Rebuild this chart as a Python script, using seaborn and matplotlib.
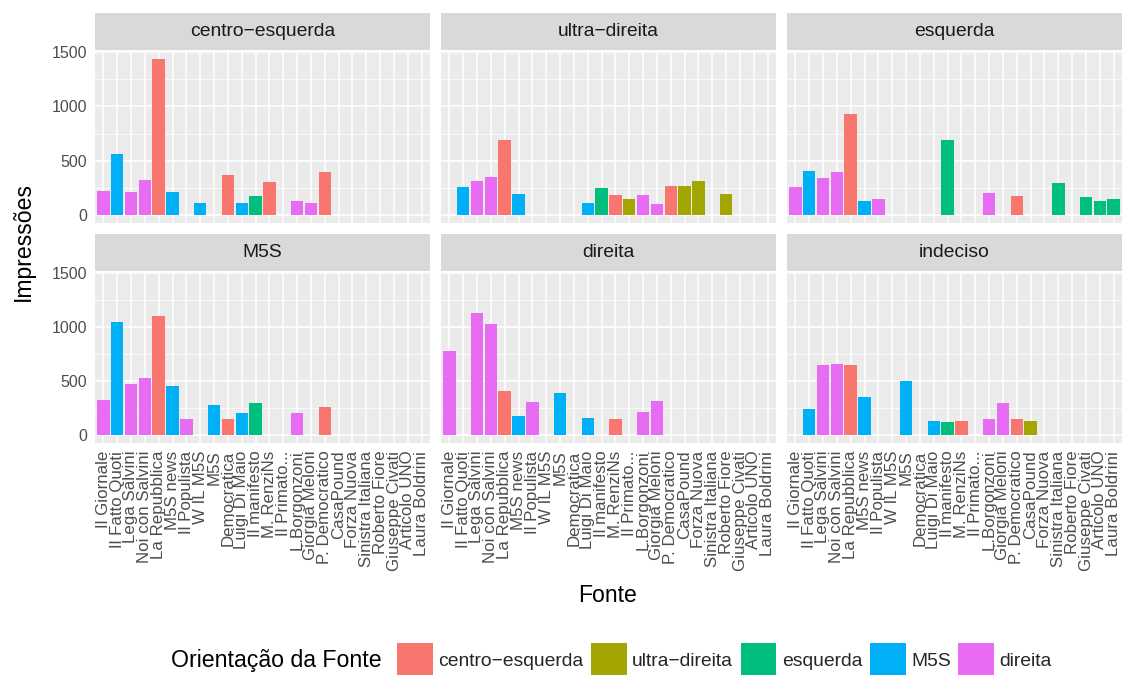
import numpy as np
import pandas as pd
import matplotlib
matplotlib.use('Agg')
import matplotlib.pyplot as plt
import seaborn as sns
from matplotlib.patches import Patch

# Sources on the x axis and the orientation of each source
sources = ['Il Giornale', 'Il Fatto Quoti', 'Lega Salvini', 'Noi con Salvini',
           'La Repubblica', 'M5S news', 'Il Populista', 'W IL M5S', 'M5S',
           'Democratica', 'Luigi Di Maio', 'Il manifesto', 'M. RenziNs',
           'Il Primato...', 'L.Borgonzoni', 'Giorgia Meloni', 'P. Democratico',
           'CasaPound', 'Forza Nuova', 'Sinistra Italiana', 'Roberto Fiore',
           'Giuseppe Civati', 'Articolo UNO', 'Laura Boldrini']
source_orient = ['direita', 'M5S', 'direita', 'direita',
                 'centro\u2212esquerda', 'M5S', 'direita', 'M5S', 'M5S',
                 'centro\u2212esquerda', 'M5S', 'esquerda', 'centro\u2212esquerda',
                 'ultra\u2212direita', 'direita', 'direita', 'centro\u2212esquerda',
                 'ultra\u2212direita', 'ultra\u2212direita', 'esquerda', 'ultra\u2212direita',
                 'esquerda', 'esquerda', 'esquerda']

# Facets (user orientation)
panels = ['centro\u2212esquerda', 'ultra\u2212direita', 'esquerda',
          'M5S', 'direita', 'indeciso']

# Impressions per source, one list per facet (0 = no bar)
imp_centro_esquerda = [225, 559, 216, 327, 1438, 216, 0, 114, 0, 373, 114, 179,
                       309, 0, 133, 114, 401, 0, 0, 0, 0, 0, 0, 0]
imp_ultra_direita = [0, 262, 318, 355, 688, 198, 0, 0, 0, 0, 114, 253,
                     188, 151, 188, 105, 272, 272, 318, 0, 198, 0, 0, 0]
imp_esquerda = [262, 410, 346, 401, 929, 133, 151, 0, 0, 0, 0, 688,
                0, 0, 207, 0, 179, 0, 0, 299, 0, 170, 133, 151]
imp_m5s = [322, 1048, 471, 527, 1103, 453, 146, 0, 276, 146, 201, 294,
           0, 0, 201, 0, 257, 0, 0, 0, 0, 0, 0, 0]
imp_direita = [778, 0, 1131, 1029, 406, 174, 304, 0, 388, 0, 155, 0,
               146, 0, 211, 313, 0, 0, 0, 0, 0, 0, 0, 0]
imp_indeciso = [0, 239, 648, 657, 645, 350, 0, 0, 499, 0, 136, 118,
                127, 0, 146, 294, 146, 127, 0, 0, 0, 0, 0, 0]
panel_values = [imp_centro_esquerda, imp_ultra_direita, imp_esquerda,
                imp_m5s, imp_direita, imp_indeciso]

orient_levels = ['centro\u2212esquerda', 'ultra\u2212direita', 'esquerda', 'M5S', 'direita']
palette = ['#F8766D', '#A3A500', '#00BF7D', '#00B0F6', '#E76BF3']

# Long table
rows = []
for p, vals in zip(panels, panel_values):
    for s, o, v in zip(sources, source_orient, vals):
        if v > 0:
            rows.append({'painel': p, 'Fonte': s, 'orient': o, 'Impressoes': v})
df = pd.DataFrame(rows)

sns.set_theme(style='darkgrid')
plt.rcParams['font.family'] = ['Liberation Sans', 'DejaVu Sans']

W, H = 1128, 675
fig = plt.figure(figsize=(W / 100, H / 100), dpi=100)
fig.patch.set_facecolor('white')


def box(x0, y0, x1, y1):
    return [x0 / W, 1 - y1 / H, (x1 - x0) / W, (y1 - y0) / H]


col_x = [95, 441, 787]
pan_w = 335
row_y = [(13, 51, 223), (234, 272, 443)]  # strip top, panel top, panel bottom

for i, p in enumerate(panels):
    r, c = divmod(i, 3)
    st, pt, pb = row_y[r]
    x0 = col_x[c]
    ax = fig.add_axes(box(x0, pt, x0 + pan_w, pb))
    sub = df[df['painel'] == p]
    sns.barplot(data=sub, x='Fonte', y='Impressoes', hue='orient',
                order=sources, hue_order=orient_levels, palette=palette,
                dodge=False, width=0.9, saturation=1, errorbar=None,
                legend=False, linewidth=0, edgecolor='none', ax=ax)
    ax.set_facecolor('#EBEBEB')
    ax.set_xlim(-0.6, len(sources) - 0.4)
    ax.set_ylim(-71.9, 1509.9)
    ax.set_yticks([0, 500, 1000, 1500])
    ax.set_yticks([250, 750, 1250], minor=True)
    ax.grid(which='major', color='white', linewidth=1.1)
    ax.grid(which='minor', axis='y', color='white', linewidth=0.55)
    ax.set_axisbelow(True)
    for sp in ax.spines.values():
        sp.set_visible(False)
    ax.set_xlabel('')
    ax.set_ylabel('')
    ax.tick_params(axis='both', which='major', length=3.5, width=1.0,
                   color='#333333', labelcolor='#4D4D4D')
    ax.tick_params(axis='y', which='minor', length=0)
    ax.tick_params(axis='y', labelsize=11.5, pad=2)
    if c != 0:
        ax.tick_params(axis='y', left=False, labelleft=False)
    if r == 0:
        ax.tick_params(axis='x', bottom=False, labelbottom=False)
    else:
        ax.set_xticks(range(len(sources)))
        ax.set_xticklabels(sources, rotation=90, fontsize=12.2)
        ax.tick_params(axis='x', pad=2)

    # facet strip
    sax = fig.add_axes(box(x0, st, x0 + pan_w, pt - 1))
    sax.set_facecolor('#D9D9D9')
    sax.set_xticks([])
    sax.set_yticks([])
    sax.grid(False)
    for sp in sax.spines.values():
        sp.set_visible(False)
    sax.text(0.5, 0.5, p, ha='center', va='center', fontsize=13.9,
             color='#1A1A1A', transform=sax.transAxes)

fig.text(23 / W, 1 - 242 / H, 'Impress\u00f5es', rotation=90, ha='center',
         va='center', fontsize=16.6, color='black')
fig.text(608 / W, 1 - 596 / H, 'Fonte', ha='center', va='center',
         fontsize=16.6, color='black')

# Legend at the bottom, title on the left
fig.text(171 / W, 1 - 660 / H, 'Orienta\u00e7\u00e3o da Fonte', ha='left',
         va='center', fontsize=16.7, color='black')
handles = [Patch(facecolor=col, edgecolor='none') for col in palette]
fig.legend(handles, orient_levels, loc='center left',
           bbox_to_anchor=(397 / W, 1 - 660 / H), ncol=5, frameon=False,
           fontsize=13.9, handlelength=1.85, handleheight=2.3,
           handletextpad=0.28, columnspacing=0.4, borderpad=0, borderaxespad=0)

fig.savefig('out.png', dpi=100)
